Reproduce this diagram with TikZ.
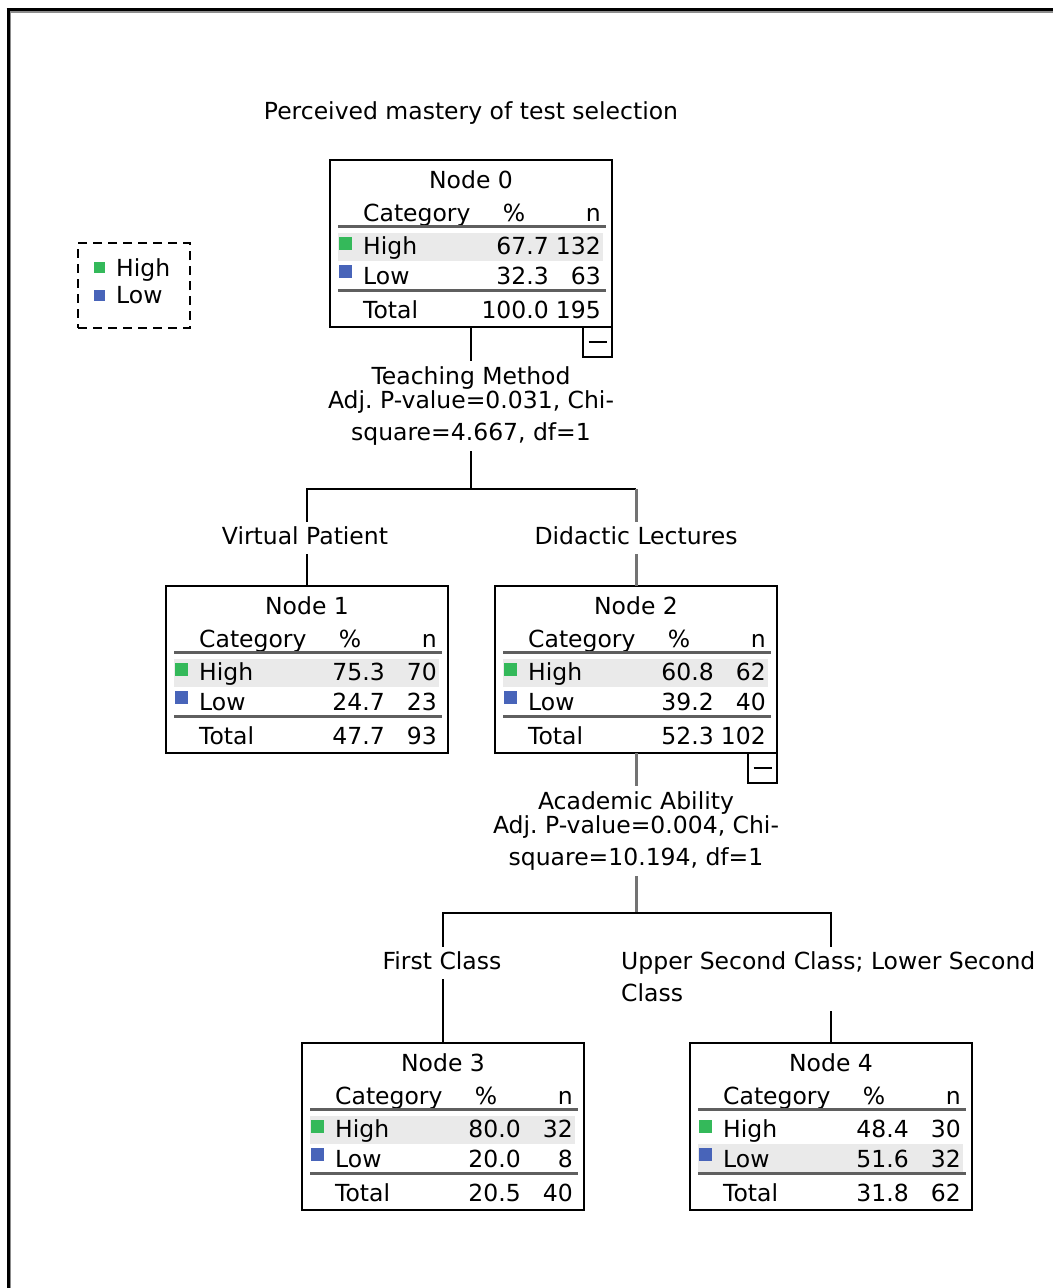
\documentclass[tikz,border=0pt]{standalone}
\usepackage{fontspec}
\setmainfont{DejaVu Sans}
\usetikzlibrary{fit,calc}
\definecolor{hiGreen}{RGB}{52,185,90}
\definecolor{loBlue}{RGB}{72,100,185}
\definecolor{hlGray}{RGB}{234,234,234}
\definecolor{ruleGray}{RGB}{95,95,95}
\tikzset{
  treebox/.style={draw=black,line width=2pt,minimum width=282pt,minimum height=167pt,inner sep=0pt,outer sep=0pt,anchor=north west},
  minusbox/.style={draw=black,line width=2pt,minimum width=29pt,minimum height=30pt,inner sep=0pt,outer sep=0pt,anchor=north east},
  tx/.style={inner sep=0pt},
  lbl/.style={inner sep=0pt,text height=17pt,text depth=5pt},
  conn/.style={draw=black,line width=2pt},
  connG/.style={draw=black!55,line width=3pt},
  hrule/.style={draw=ruleGray,line width=3pt},
}
% #1 name, #2 L, #3 T, #4 number, #5 hiPct, #6 hiN, #7 loPct, #8 loN, #9 highlighted row (1 = High, 2 = Low)
\newcommand\TreeBox[9]{%
  \begin{scope}[shift={(#2,#3)}]
    \ifnum#9=1
      \fill[hlGray] (8,72.5) rectangle (273,101);
    \else
      \fill[hlGray] (8,101) rectangle (273,128.5);
    \fi
    \node[treebox] (#1) at (0,0) {};
    \node[tx,anchor=base] (#1t) at (141,28) {Node #4};
    \node[tx,anchor=base west] (#1c) at (33,61) {Category};
    \node[tx,anchor=base] (#1p) at (184,61) {\%};
    \node[tx,anchor=base east] (#1n) at (271,61) {n};
    \draw[hrule] (8,66.5) -- (276,66.5);
    \fill[hiGreen] (9,77) rectangle (22,90);
    \node[tx,anchor=base west] (#1h) at (33,94.5) {High};
    \node[tx,anchor=base east] (#1hp) at (219,94.5) {#5};
    \node[tx,anchor=base east] (#1hn) at (271,94.5) {#6};
    \fill[loBlue] (9,105) rectangle (22,118);
    \node[tx,anchor=base west] (#1l) at (33,124.5) {Low};
    \node[tx,anchor=base east] (#1lp) at (219,124.5) {#7};
    \node[tx,anchor=base east] (#1ln) at (271,124.5) {#8};
    \draw[hrule] (8,130) -- (276,130);
  \end{scope}}
% #1 name, #2 L, #3 T, #4 total pct, #5 total n
\newcommand\TreeTotal[5]{%
  \begin{scope}[shift={(#2,#3)}]
    \node[tx,anchor=base west] (#1tt) at (33,158) {Total};
    \node[tx,anchor=base east] (#1tp) at (219,158) {#4};
    \node[tx,anchor=base east] (#1tn) at (271,158) {#5};
  \end{scope}}
\begin{document}
\begin{tikzpicture}[x=1pt,y=-1pt,font=\fontsize{23.5}{28}\selectfont]
\useasboundingbox (0,0) rectangle (1053,1288);
\fill[white] (0,0) rectangle (1053,1288);
% outer frame (top and left edges only)
\draw[black!45,line width=1.5pt] (10,12) -- (1053,12);
\draw[black!45,line width=1.5pt] (10.5,12) -- (10.5,1288);
\draw[black,line width=3pt] (6.5,9.5) -- (1053,9.5);
\draw[black,line width=3pt] (8,8) -- (8,1288);

% title
\node[tx,anchor=base] (title) at (471,119) {Perceived mastery of test selection};

% legend
\node[draw=black,line width=2pt,dash pattern=on 9pt off 6pt,minimum width=112pt,minimum height=85pt,inner sep=0pt,anchor=north west] (legend) at (77,242) {};
\fill[hiGreen] (94,262) rectangle (105,273);
\node[tx,anchor=base west] (legH) at (116,276) {High};
\fill[loBlue] (94,290) rectangle (105,301);
\node[tx,anchor=base west] (legL) at (116,303) {Low};

% nodes
\TreeBox{n0}{330}{160}{0}{67.7}{132}{32.3}{63}{1}
\TreeTotal{n0}{330}{160}{100.0}{195}
\node[minusbox] (m0) at (n0.south east) {};
\draw[black,line width=2pt] ($(m0.center)+(-9,0)$) -- ($(m0.center)+(9,0)$);

\TreeBox{n1}{166}{586}{1}{75.3}{70}{24.7}{23}{1}
\TreeTotal{n1}{166}{586}{47.7}{93}

\TreeBox{n2}{495}{586}{2}{60.8}{62}{39.2}{40}{1}
\TreeTotal{n2}{495}{586}{52.3}{102}
\node[minusbox] (m2) at (n2.south east) {};
\draw[black,line width=2pt] ($(m2.center)+(-9,0)$) -- ($(m2.center)+(9,0)$);

\TreeBox{n3}{302}{1043}{3}{80.0}{32}{20.0}{8}{1}
\TreeTotal{n3}{302}{1043}{20.5}{40}

\TreeBox{n4}{690}{1043}{4}{48.4}{30}{51.6}{32}{2}
\TreeTotal{n4}{690}{1043}{31.8}{62}

% split 1
\node[lbl,anchor=base] (s1a) at (471,384) {Teaching Method};
\node[lbl,anchor=base] (s1b) at (471,408) {Adj.\ P-value=0.031, Chi-};
\node[lbl,anchor=base] (s1c) at (471,440) {square=4.667, df=1};
\node[fit=(s1a)(s1b)(s1c),inner xsep=4pt,inner ysep=6pt] (s1) {};
\coordinate (j1) at (471,489);
\draw[conn] (n0.south) -- (s1.north -| n0.south);
\draw[conn] (s1.south -| n0.south) -- (j1);

\node[lbl,anchor=base,inner ysep=5pt] (vp) at (305,544) {Virtual Patient};
\node[lbl,anchor=base,inner ysep=5pt] (dl) at (636,544) {Didactic Lectures};
\draw[conn] (vp.north -| n1.north) -- (n1.north |- j1) -- (n2.north |- j1);
\draw[conn] (vp.south -| n1.north) -- (n1.north);
\draw[connG] (n2.north |- j1) -- (dl.north -| n2.north);
\draw[connG] (dl.south -| n2.north) -- (n2.north);

% split 2
\node[lbl,anchor=base] (s2a) at (636,809) {Academic Ability};
\node[lbl,anchor=base] (s2b) at (636,833) {Adj.\ P-value=0.004, Chi-};
\node[lbl,anchor=base] (s2c) at (636,865) {square=10.194, df=1};
\node[fit=(s2a)(s2b)(s2c),inner xsep=4pt,inner ysep=6pt] (s2) {};
\coordinate (j2) at (636,913);
\draw[connG] (n2.south) -- (s2.north -| n2.south);
\draw[connG] (s2.south -| n2.south) -- (j2);

\node[lbl,anchor=base,inner ysep=5pt] (fc) at (442,969) {First Class};
\node[lbl,anchor=base west] (us1) at (621,969) {Upper Second Class; Lower Second};
\node[lbl,anchor=base west] (us2) at (621,1001) {Class};
\node[fit=(us1)(us2),inner xsep=2pt,inner ysep=5pt] (us) {};
\draw[conn] (fc.north -| n3.north) -- (n3.north |- j2) -- (n4.north |- j2) -- (us.north -| n4.north);
\draw[conn] (fc.south -| n3.north) -- (n3.north);
\draw[conn] (us.south -| n4.north) -- (n4.north);
\end{tikzpicture}
\end{document}
